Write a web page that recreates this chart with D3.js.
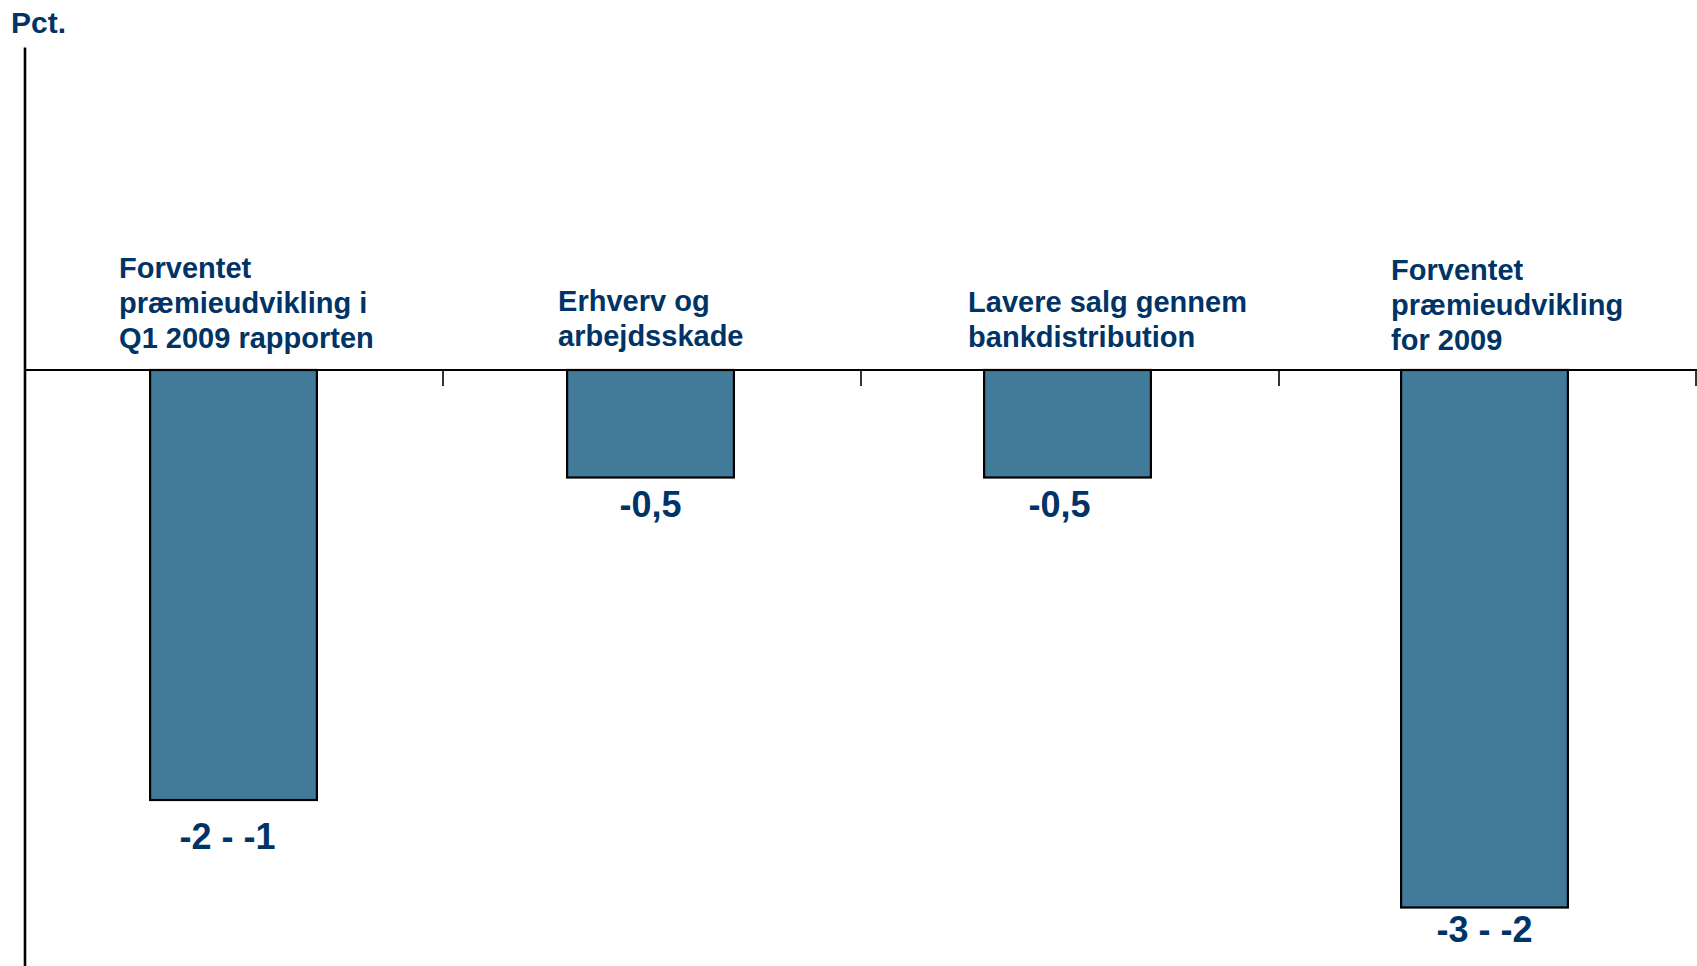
<!DOCTYPE html>
<html>
<head>
<meta charset="utf-8">
<script src="https://cdn.jsdelivr.net/npm/d3@7"></script>
<style>
  html, body { margin: 0; padding: 0; background: #fff; }
  svg { display: block; }
  text { font-family: "Liberation Sans", Arial, sans-serif; font-weight: bold; fill: #003466; }
</style>
</head>
<body>
<svg id="chart" width="1697" height="966"></svg>
<script>
// ---- data ----
const categories = [
  ["Forventet", "præmieudvikling i", "Q1 2009 rapporten"],
  ["Erhverv og", "arbejdsskade"],
  ["Lavere salg gennem", "bankdistribution"],
  ["Forventet", "præmieudvikling", "for 2009"]
];
const values = [-2, -0.5, -0.5, -2.5];
const valueLabels = ["-2 - -1", "-0,5", "-0,5", "-3 - -2"];
const yUnit = "Pct.";

// ---- layout ----
const W = 1697, H = 966;
const svg = d3.select("#chart");
const x = d3.scaleBand().domain(d3.range(categories.length)).range([25, 1693]).paddingInner(0.6).paddingOuter(0.3);
const y = d3.scaleLinear().domain([-3, 1.5]).range([1015, 47.5]);

// per-label tweaks (annotation placement)
const catDx = [-31, -9, -16, -10];
const catBase = [348, 346, 347, 350];
const valDx = [-6, 0, -8, 0];
const valDy = [49, 39, 39, 34];

// bars
svg.append("g").selectAll("rect").data(values).join("rect")
  .attr("x", (d, i) => x(i))
  .attr("width", x.bandwidth())
  .attr("y", d => y(Math.max(0, d)))
  .attr("height", d => Math.abs(y(d) - y(0)))
  .attr("fill", "#427A9A")
  .attr("stroke", "#000")
  .attr("stroke-width", 2.2);

// x axis line and ticks at band boundaries
const x0 = x.range()[0];
const tickStep = (W - x0) / categories.length;
svg.append("line")
  .attr("x1", x0).attr("x2", W)
  .attr("y1", y(0)).attr("y2", y(0))
  .attr("stroke", "#000").attr("stroke-width", 2);
const bounds = d3.range(1, categories.length + 1).map(i => Math.min(x0 + tickStep * i, W - 1));
svg.append("g").selectAll("line").data(bounds).join("line")
  .attr("x1", d => d).attr("x2", d => d)
  .attr("y1", y(0)).attr("y2", y(0) + 16)
  .attr("stroke", "#000").attr("stroke-width", 1.6);

// y axis line
svg.append("line")
  .attr("x1", x0).attr("x2", x0)
  .attr("y1", y(1.5)).attr("y2", H)
  .attr("stroke", "#000").attr("stroke-width", 2.6);

// unit label
svg.append("text").attr("x", 11).attr("y", 33)
  .style("font-size", "30px").text(yUnit);

// category labels
categories.forEach((lines, i) => {
  const t = svg.append("text")
    .attr("x", x(i) + catDx[i])
    .attr("y", catBase[i] - 35 * (lines.length - 1))
    .style("font-size", "29px");
  lines.forEach((ln, j) => {
    t.append("tspan").attr("x", x(i) + catDx[i]).attr("dy", j === 0 ? 0 : 35).text(ln);
  });
});

// value labels
svg.append("g").selectAll("text").data(values).join("text")
  .attr("x", (d, i) => x(i) + x.bandwidth() / 2 + valDx[i])
  .attr("y", (d, i) => y(d) + valDy[i])
  .attr("text-anchor", "middle")
  .style("font-size", "36px")
  .text((d, i) => valueLabels[i]);
</script>
</body>
</html>
